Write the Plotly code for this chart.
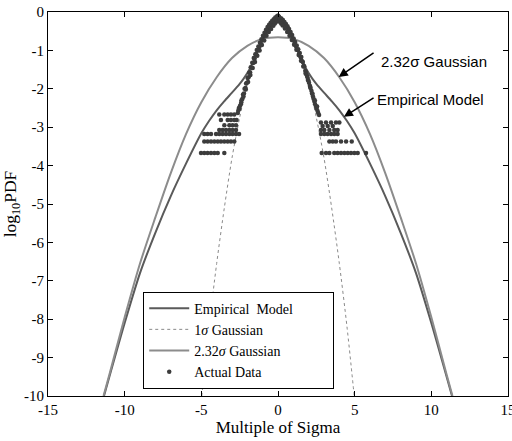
import plotly.graph_objects as go

# ---------------- data ----------------
emp_x = [-11.35, -10, -9, -8, -7, -6, -5, -4.5, -4, -3.5, -3, -2.5, -2.25, -2, -1.75, -1.5, -1, -0.5, 0,
         0.5, 1, 1.5, 1.75, 2, 2.25, 2.5, 3, 3.5, 4, 4.5, 5, 6, 7, 8, 9, 10, 11.35]
emp_y = [-10, -8.1, -6.8, -5.75, -4.8, -3.95, -3.16, -2.84, -2.56, -2.32, -2.1, -1.87, -1.74, -1.59, -1.41, -1.18, -0.7, -0.36, -0.22,
         -0.36, -0.7, -1.18, -1.41, -1.59, -1.74, -1.87, -2.1, -2.32, -2.56, -2.84, -3.16, -3.95, -4.8, -5.75, -6.8, -8.1, -10]

g1_x = [-4.97, -4.5, -4, -3.5, -3, -2.5, -2, -1.5, -1, -0.5, 0, 0.5, 1, 1.5, 2, 2.5, 3, 3.5, 4, 4.5, 4.97]
g1_y = [-10, -8.2, -6.55, -5.1, -3.8, -2.75, -1.85, -1.18, -0.7, -0.4, -0.3,
        -0.4, -0.7, -1.18, -1.85, -2.75, -3.8, -5.1, -6.55, -8.2, -10]

g232_x = [-11.38, -11, -10, -9, -8, -7, -6, -5, -4, -3, -2, -1, 0, 1, 2, 3, 4, 5, 6, 7, 8, 9, 10, 11, 11.38]
g232_y = [-10, -9.45, -7.95, -6.55, -5.35, -4.2, -3.18, -2.35, -1.7, -1.2, -0.88, -0.70, -0.66,
          -0.70, -0.88, -1.2, -1.7, -2.35, -3.18, -4.2, -5.35, -6.55, -7.95, -9.45, -10]

band_left_x = [-0.02, -0.08, -0.12, -0.18, -0.22, -0.28, -0.32, -0.38, -0.42, -0.48, -0.52, -0.58, -0.62, -0.68,
               -0.72, -0.78, -0.82, -0.88, -0.92, -0.98, -1.02, -1.08, -1.12, -1.18, -1.22, -1.28, -1.32, -1.38,
               -1.42, -1.48, -1.52, -1.58, -1.62, -1.68, -1.72, -1.78, -1.82, -1.88, -1.92, -1.98, -2.02, -2.08,
               -2.12, -2.18, -2.22, -2.28, -2.32, -2.38, -2.42, -2.48, -2.52, -2.58, -2.62]
band_left_y = [-0.1, -0.12, -0.18, -0.14, -0.22, -0.19, -0.27, -0.23, -0.31, -0.28, -0.36, -0.33, -0.42, -0.39,
               -0.49, -0.46, -0.56, -0.54, -0.64, -0.62, -0.73, -0.71, -0.82, -0.8, -0.91, -0.9, -1.0, -0.99,
               -1.1, -1.1, -1.21, -1.2, -1.33, -1.32, -1.45, -1.44, -1.57, -1.58, -1.7, -1.72, -1.84, -1.86,
               -1.98, -2.0, -2.12, -2.15, -2.26, -2.3, -2.4, -2.45, -2.52, -2.56, -2.63]
band_left_extra_x = [-0.1, -0.2, -0.3, -0.45, -0.6, -0.75, -0.9, -1.05, -1.2, -1.35, -1.5, -1.65, -1.8, -1.95,
                     -2.1, -2.25, -2.4, -2.55]
band_left_extra_y = [-0.24, -0.3, -0.36, -0.44, -0.52, -0.62, -0.74, -0.86, -1.0, -1.14, -1.3, -1.46, -1.64, -1.82,
                     -2.02, -2.2, -2.36, -2.5]

band_right_x = [0.02, 0.08, 0.12, 0.18, 0.22, 0.28, 0.32, 0.38, 0.42, 0.48, 0.52, 0.58, 0.62, 0.68, 0.72, 0.78,
                0.82, 0.88, 0.92, 0.98, 1.02, 1.08, 1.12, 1.18, 1.22, 1.28, 1.32, 1.38, 1.42, 1.48, 1.52, 1.58,
                1.62, 1.68, 1.72, 1.78, 1.82, 1.88, 1.92, 1.98, 2.02, 2.08, 2.12, 2.18, 2.22, 2.28, 2.32, 2.38,
                2.42, 2.48, 2.52, 2.58, 2.62, 2.68]
band_right_y = [-0.1, -0.13, -0.16, -0.19, -0.17, -0.24, -0.21, -0.28, -0.26, -0.33, -0.31, -0.39, -0.37, -0.46,
                -0.44, -0.54, -0.52, -0.62, -0.6, -0.71, -0.69, -0.8, -0.78, -0.9, -0.87, -0.99, -0.97, -1.08,
                -1.07, -1.18, -1.17, -1.28, -1.3, -1.4, -1.42, -1.53, -1.56, -1.65, -1.7, -1.78, -1.84, -1.92,
                -1.98, -2.05, -2.12, -2.2, -2.26, -2.33, -2.4, -2.46, -2.52, -2.58, -2.63, -2.68]
band_right_extra_x = [0.1, 0.2, 0.3, 0.45, 0.6, 0.75, 0.9, 1.05, 1.2, 1.35, 1.5, 1.65, 1.8, 1.95, 2.1, 2.25,
                      2.4, 2.55]
band_right_extra_y = [-0.24, -0.3, -0.35, -0.43, -0.52, -0.62, -0.73, -0.85, -0.98, -1.12, -1.27, -1.42, -1.6,
                      -1.77, -1.95, -2.13, -2.3, -2.46]

tail_levels = [-2.67, -2.81, -2.95, -3.07, -3.18, -3.37, -3.67,
               -2.88, -2.97, -3.07, -3.18, -3.37, -3.67]
tail_x = [
    [-3.83, -3.5, -3.28, -3.07, -2.85],
    [-3.72, -3.28, -3.07, -2.85, -2.7],
    [-3.5, -3.17, -2.96, -2.74],
    [-3.83, -3.61, -3.39, -3.17, -2.96, -2.74],
    [-4.81, -4.59, -4.37, -4.04, -3.83, -3.61, -3.39, -3.17, -2.96, -2.74, -2.54],
    [-4.81, -4.59, -4.37, -4.15, -3.93, -3.72, -3.5, -3.28, -3.07, -2.85],
    [-5.02, -4.81, -4.59, -4.37, -4.15, -3.93, -3.5],
    [2.8, 3.13, 3.46, 3.78, 4.0],
    [2.91, 3.24, 3.57],
    [2.8, 3.02, 3.35, 3.67, 3.89],
    [2.8, 3.02, 3.24, 3.46, 3.67, 3.89],
    [3.35, 3.57, 3.78, 4.11, 4.44, 4.81],
    [2.85, 3.13, 3.35, 3.67, 3.89, 4.11, 4.33, 4.55, 4.76, 4.98, 5.2, 5.74],
]

x_ticks = [-15, -10, -5, 0, 5, 10, 15]
x_ticktext = ["-15", "-10", "-5", "0", "5", "10", "15"]
y_ticks = [0, -1, -2, -3, -4, -5, -6, -7, -8, -9, -10]
y_ticktext = ["0", "-1", "-2", "-3", "-4", "-5", "-6", "-7", "-8", "-9", "-10"]

# ---------------- build ----------------
data_x = band_left_x + band_left_extra_x + band_right_x + band_right_extra_x
data_y = band_left_y + band_left_extra_y + band_right_y + band_right_extra_y
for lvl, xs in zip(tail_levels, tail_x):
    data_x += xs
    data_y += [lvl] * len(xs)

SERIF = "Liberation Serif, Times New Roman, serif"
SANS = "Liberation Sans, Arial, sans-serif"
NB = "\u00a0"

fig = go.Figure()
fig.add_trace(go.Scatter(x=emp_x, y=emp_y, mode="lines", name="Empirical" + NB + " Model" + NB * 10,
                         line=dict(color="#5a5a5a", width=2, shape="spline", smoothing=0.7)))
fig.add_trace(go.Scatter(x=g1_x, y=g1_y, mode="lines", name="1<i>σ</i> Gaussian",
                         line=dict(color="#8a8a8a", width=1, dash="dot", shape="spline", smoothing=0.8)))
fig.add_trace(go.Scatter(x=g232_x, y=g232_y, mode="lines", name="2.32<i>σ</i> Gaussian",
                         line=dict(color="#8c8c8c", width=2, shape="spline", smoothing=0.8)))
fig.add_trace(go.Scatter(x=data_x, y=data_y, mode="markers", name="Actual Data",
                         marker=dict(color="#3c3c3c", size=4.5, line=dict(width=0))))

axis_common = dict(showline=True, linecolor="black", linewidth=1, mirror="ticks",
                   ticks="inside", ticklen=5, tickcolor="black", showgrid=False, zeroline=False,
                   tickfont=dict(family=SERIF, size=15, color="black"), automargin=False,
                   ticklabeloverflow="allow")

fig.update_layout(
    width=512, height=441,
    margin=dict(l=48, r=4, t=12, b=45),
    paper_bgcolor="white", plot_bgcolor="white",
    xaxis=dict(range=[-15, 15], tickmode="array", tickvals=x_ticks, ticktext=x_ticktext,
               title=dict(text="Multiple of Sigma", font=dict(family=SERIF, size=17, color="black"), standoff=4),
               **axis_common),
    yaxis=dict(range=[-10, 0], tickmode="array", tickvals=y_ticks, ticktext=y_ticktext,
               title=dict(text="log<sub>10</sub>PDF", font=dict(family=SERIF, size=17.5, color="black"), standoff=2),
               **axis_common),
    legend=dict(x=0.207, y=0.272, xanchor="left", yanchor="top", bgcolor="white",
                bordercolor="black", borderwidth=1, itemwidth=40,
                font=dict(family=SERIF, size=14, color="black")),
    showlegend=True,
)

arrow_style = dict(showarrow=True, arrowhead=2, arrowsize=1.2, arrowwidth=1.5, arrowcolor="black",
                   axref="x", ayref="y", text="")
fig.add_annotation(x=3.96, y=-1.69, ax=6.33, ay=-1.04, **arrow_style)
fig.add_annotation(x=4.3, y=-2.73, ax=6.33, ay=-2.21, **arrow_style)
fig.add_annotation(x=6.6, y=-1.28, text="2.32σ Gaussian", showarrow=False, xanchor="left",
                   font=dict(family=SANS, size=15, color="black"))
fig.add_annotation(x=6.35, y=-2.29, text="Empirical Model", showarrow=False, xanchor="left",
                   font=dict(family=SANS, size=15, color="black"))

fig.write_html("out.html")
